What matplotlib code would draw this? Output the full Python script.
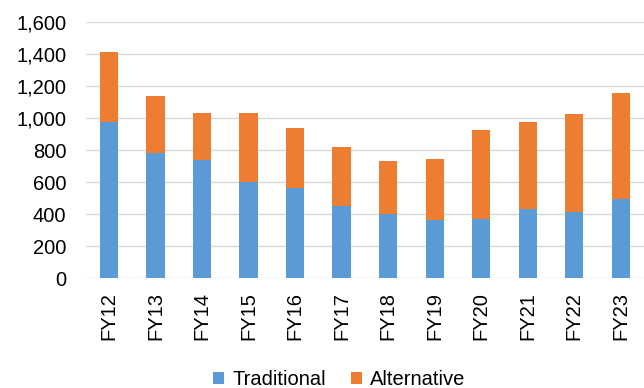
import numpy as np
import matplotlib
matplotlib.use("Agg")
import matplotlib.pyplot as plt
from matplotlib.ticker import FuncFormatter

plt.rcParams['font.family'] = ['Liberation Sans', 'DejaVu Sans']

years = ["FY12", "FY13", "FY14", "FY15", "FY16", "FY17",
         "FY18", "FY19", "FY20", "FY21", "FY22", "FY23"]
traditional = [976, 783, 737, 602, 565, 453, 403, 365, 370, 434, 415, 494]
totals = [1409, 1135, 1032, 1029, 935, 817, 729, 742, 925, 975, 1024, 1155]
alternative = [t - b for t, b in zip(totals, traditional)]

blue = '#5B9BD5'
orange = '#ED7D31'

fig = plt.figure(figsize=(6.44, 3.88), dpi=100)
ax = fig.add_axes([0.133, 0.2827, 0.867, 0.6614])

x = np.arange(len(years))
ax.bar(x, traditional, width=0.39, color=blue, label='Traditional', zorder=3)
ax.bar(x, alternative, width=0.39, bottom=traditional, color=orange,
       label='Alternative', zorder=3)

ax.set_xlim(-0.5, len(years) - 0.5)
ax.set_ylim(0, 1600)
ax.set_yticks(np.arange(0, 1601, 200))
ax.yaxis.set_major_formatter(FuncFormatter(lambda v, p: f"{v:,.0f}"))
ax.set_xticks(x)
ax.set_xticklabels(years, rotation=90)

ax.grid(axis='y', color='#D9D9D9', linewidth=1.0, zorder=0)
for s in ax.spines.values():
    s.set_visible(False)
ax.tick_params(axis='y', length=0, pad=14, labelsize=14.5, labelcolor='#000000')
ax.tick_params(axis='x', length=0, pad=10, labelsize=14.5, labelcolor='#000000')

fig.legend(loc='center', bbox_to_anchor=(0.527, 0.022), ncol=2, frameon=False,
           fontsize=14.5, handlelength=0.55, handleheight=0.55,
           handletextpad=0.4, columnspacing=1.25)

fig.savefig('out.png', dpi=100)
